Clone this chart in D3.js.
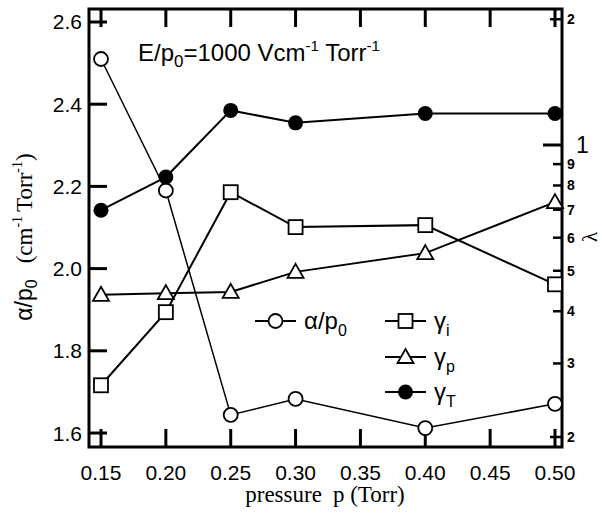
<!DOCTYPE html>
<html>
<head>
<meta charset="utf-8">
<script src="https://cdn.jsdelivr.net/npm/d3@7"></script>
<style>
  body { margin: 0; background: #fff; }
  svg { display: block; }
</style>
</head>
<body>
<div id="chart"></div>
<script>
// pressure values (Torr) and measured series
const pressure = [0.15, 0.20, 0.25, 0.30, 0.40, 0.50];
const alphaP0 = [2.51, 2.19, 1.644, 1.683, 1.612, 1.671];   // left axis
const gammaI = [0.266, 0.398, 0.771, 0.636, 0.643, 0.464];  // right (log) axis
const gammaP = [0.438, 0.442, 0.445, 0.497, 0.551, 0.73];
const gammaT = [0.698, 0.838, 1.21, 1.13, 1.19, 1.19];

const xTicks = [0.15, 0.20, 0.25, 0.30, 0.35, 0.40, 0.45, 0.50];
const yTicks = [1.6, 1.8, 2.0, 2.2, 2.4, 2.6];
const rTicks = [0.2, 0.3, 0.4, 0.5, 0.6, 0.7, 0.8, 0.9, 1, 2];
const rLabels = ["2", "3", "4", "5", "6", "7", "8", "9", "1", "2"];

const width = 602, height = 514;
const plotL = 89, plotR = 562, plotT = 9, plotB = 447;

const svg = d3.select("#chart").append("svg")
  .attr("width", width)
  .attr("height", height);

const x = d3.scaleLinear().domain([0.14075, 0.5054]).range([plotL, plotR]);
const y = d3.scaleLinear().domain([1.566, 2.6316]).range([plotB, plotT]);
const yR = d3.scaleLog().domain([0.1893, 2.116]).range([plotB, plotT]);

const sans = "'Liberation Sans', Arial, Helvetica, sans-serif";
const serif = "'Liberation Serif', 'Times New Roman', serif";

// ticks (all pointing inward)
const tickG = svg.append("g").attr("stroke", "#000").attr("stroke-width", 3);
xTicks.forEach(v => {
  tickG.append("line").attr("x1", x(v)).attr("x2", x(v)).attr("y1", plotB).attr("y2", plotB - 18);
  tickG.append("line").attr("x1", x(v)).attr("x2", x(v)).attr("y1", plotT).attr("y2", plotT + 18);
});
yTicks.forEach(v => {
  tickG.append("line").attr("x1", plotL).attr("x2", plotL + 18).attr("y1", y(v)).attr("y2", y(v));
});
rTicks.forEach(v => {
  const len = v === 1 ? 19 : (v === 2 || v === 0.2) ? 12 : 9;
  tickG.append("line").attr("x1", plotR).attr("x2", plotR - len).attr("y1", yR(v)).attr("y2", yR(v))
    .attr("stroke-width", v === 1 ? 3 : 2.5);
});

// frame
svg.append("rect")
  .attr("x", plotL).attr("y", plotT)
  .attr("width", plotR - plotL).attr("height", plotB - plotT)
  .attr("fill", "none").attr("stroke", "#000").attr("stroke-width", 3);

// tick labels
svg.append("g").selectAll("text").data(xTicks).join("text")
  .attr("x", d => x(d)).attr("y", 480)
  .attr("text-anchor", "middle")
  .style("font-family", sans).style("font-size", "21px")
  .text(d => d.toFixed(2));

svg.append("g").selectAll("text").data(yTicks).join("text")
  .attr("x", 82).attr("y", d => y(d) + 7.5)
  .attr("text-anchor", "end")
  .style("font-family", sans).style("font-size", "21px")
  .text(d => d.toFixed(1));

svg.append("g").selectAll("text").data(rTicks).join("text")
  .attr("x", d => d === 1 ? 576 : 567)
  .attr("y", d => yR(d) + (d === 1 ? 8 : 5))
  .style("font-family", sans)
  .style("font-size", d => d === 1 ? "23px" : "14px")
  .style("font-weight", d => d === 1 ? "normal" : "bold")
  .text((d, i) => rLabels[i]);

// axis titles
const yt = svg.append("text")
  .attr("transform", "translate(32,237) rotate(-90)")
  .attr("text-anchor", "middle")
  .style("font-size", "23px");
yt.append("tspan").style("font-family", sans).text("α/p");
yt.append("tspan").style("font-family", sans).style("font-size", "16px").attr("dy", 5).text("0");
yt.append("tspan").style("font-family", serif).attr("dy", -5).attr("dx", 16).text("(cm");
yt.append("tspan").style("font-family", serif).style("font-size", "14px").attr("dy", -10).text("-1");
yt.append("tspan").style("font-family", serif).attr("dy", 10).attr("dx", 4).text("Torr");
yt.append("tspan").style("font-family", serif).style("font-size", "14px").attr("dy", -10).text("-1");
yt.append("tspan").style("font-family", serif).attr("dy", 10).text(")");

const xt = svg.append("text")
  .attr("x", 325).attr("y", 502)
  .attr("text-anchor", "middle")
  .style("font-family", serif).style("font-size", "23px");
xt.append("tspan").text("pressure");
xt.append("tspan").attr("dx", 11).text("p (Torr)");

svg.append("text")
  .attr("transform", "translate(597,237) rotate(-90)")
  .attr("text-anchor", "middle")
  .style("font-family", serif).style("font-size", "21px")
  .text("λ");

// annotation
const ann = svg.append("text")
  .attr("x", 138).attr("y", 61)
  .style("font-family", sans).style("font-size", "24px");
ann.append("tspan").text("E/p");
ann.append("tspan").style("font-size", "17px").attr("dy", 6).text("0");
ann.append("tspan").attr("dy", -6).text("=1000 Vcm");
ann.append("tspan").style("font-size", "15px").attr("dy", -10).text("-1");
ann.append("tspan").attr("dy", 10).text(" Torr");
ann.append("tspan").style("font-size", "15px").attr("dy", -10).text("-1");

// series
const series = [
  { name: "alpha", values: alphaP0, scale: y, marker: "circle", lw: 1.5 },
  { name: "gi", values: gammaI, scale: yR, marker: "square", lw: 2 },
  { name: "gp", values: gammaP, scale: yR, marker: "triangle", lw: 2 },
  { name: "gt", values: gammaT, scale: yR, marker: "dot", lw: 2 }
];

function drawMarker(g, type, cx, cy) {
  if (type === "circle") {
    g.append("circle").attr("cx", cx).attr("cy", cy).attr("r", 7)
      .attr("fill", "#fff").attr("stroke", "#000").attr("stroke-width", 1.8);
  } else if (type === "dot") {
    g.append("circle").attr("cx", cx).attr("cy", cy).attr("r", 7.5).attr("fill", "#000");
  } else if (type === "square") {
    g.append("rect").attr("x", cx - 7).attr("y", cy - 7).attr("width", 14).attr("height", 14)
      .attr("fill", "#fff").attr("stroke", "#000").attr("stroke-width", 1.8);
  } else {
    g.append("path").attr("d", `M${cx},${cy - 8}L${cx + 8},${cy + 6}L${cx - 8},${cy + 6}Z`)
      .attr("fill", "#fff").attr("stroke", "#000").attr("stroke-width", 1.8);
  }
}

series.forEach(s => {
  const line = d3.line().x((d, i) => x(pressure[i])).y(d => s.scale(d));
  svg.append("path").datum(s.values)
    .attr("d", line)
    .attr("fill", "none").attr("stroke", "#000").attr("stroke-width", s.lw);
});
series.forEach(s => {
  const g = svg.append("g");
  s.values.forEach((v, i) => drawMarker(g, s.marker, x(pressure[i]), s.scale(v)));
});

// legend
const legend = [
  { marker: "circle", lx: 255, y: 321, label: ["α/p", "0"] },
  { marker: "square", lx: 385, y: 321, label: ["γ", "i"] },
  { marker: "triangle", lx: 385, y: 357, label: ["γ", "p"] },
  { marker: "dot", lx: 385, y: 392, label: ["γ", "T"] }
];
const lg = svg.append("g");
legend.forEach(d => {
  lg.append("line").attr("x1", d.lx).attr("x2", d.lx + 41).attr("y1", d.y).attr("y2", d.y)
    .attr("stroke", "#000").attr("stroke-width", 2);
  drawMarker(lg, d.marker, d.lx + 20.5, d.y);
  const t = lg.append("text").attr("x", d.lx + 49).attr("y", d.y + 8)
    .style("font-family", sans).style("font-size", "24px");
  t.append("tspan").text(d.label[0]);
  t.append("tspan").style("font-size", "16px").attr("dy", 7).text(d.label[1]);
});
</script>
</body>
</html>
